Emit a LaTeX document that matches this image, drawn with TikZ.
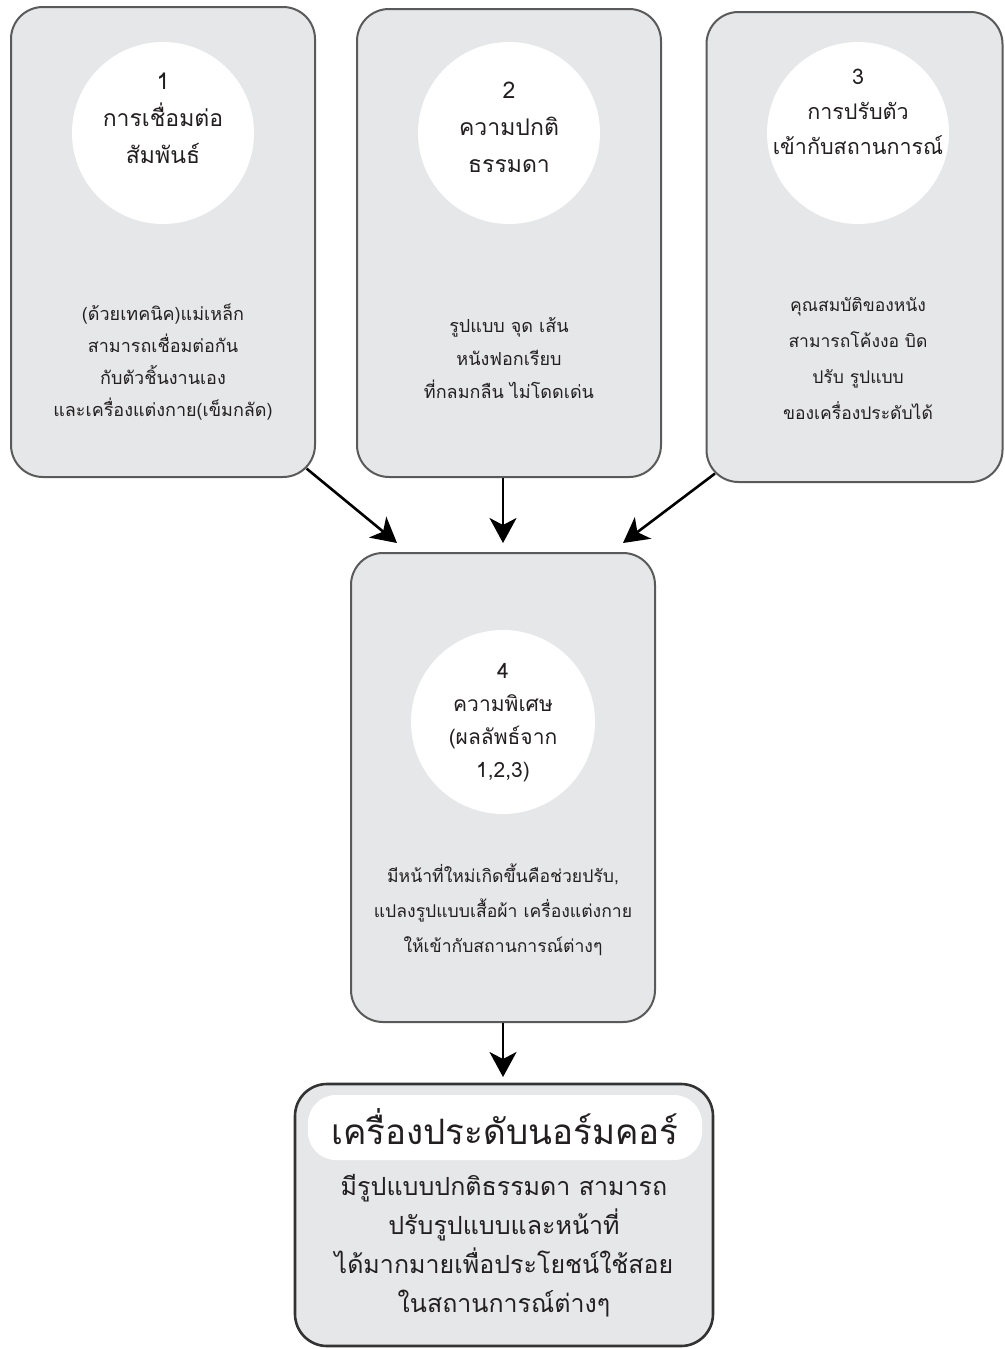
\documentclass[tikz,border=0pt]{standalone}
\usepackage{fontspec}
\newfontfamily\thaifont[Script=Thai]{Loma}
\usetikzlibrary{arrows.meta,calc}
\definecolor{boxfill}{HTML}{E6E7E8}
\definecolor{boxline}{HTML}{5A5A5A}
\definecolor{ink}{HTML}{231F20}
\begin{document}
\begin{tikzpicture}[x=1pt,y=-1pt,
  card/.style={draw=boxline, line width=2pt, fill=boxfill, rounded corners=32pt, inner sep=0pt},
  disc/.style={circle, fill=white, inner sep=0pt},
  ctext/.style={text=ink, align=center, font=\thaifont\fontsize{23}{37}\selectfont},
  btext/.style={text=ink, align=center, font=\thaifont\fontsize{18}{33}\selectfont},
  arr/.style={-{Stealth[length=25pt,width=27pt,inset=7pt]}, line width=2.6pt, draw=black}
]
\useasboundingbox (0,0) rectangle (1004,1349);
\fill[white] (0,0) rectangle (1004,1349);

% cards
\node[card, minimum width=304pt, minimum height=470pt] (b1) at (163,242) {};
\node[card, minimum width=304pt, minimum height=468pt] (b2) at (509,243) {};
\node[card, minimum width=296pt, minimum height=470pt] (b3) at (854.5,247) {};
\node[card, minimum width=304pt, minimum height=469pt] (b4) at (503,787.5) {};
\node[card, draw=black!80, line width=2.6pt, minimum width=418pt, minimum height=262pt] (b5) at (504,1215) {};

% discs
\node[disc, minimum size=182pt] (c1) at (163,133) {};
\node[disc, minimum size=182pt] (c2) at (509,133) {};
\node[disc, minimum size=182pt] (c3) at (858,133) {};
\node[disc, minimum size=184pt] (c4) at (503,722) {};
\node[fill=white, rounded corners=28pt, minimum width=394pt, minimum height=65pt, inner sep=0pt] (l5) at (505,1127.5) {};

% disc texts
\node[ctext] (t1) at (163,118) {1\\การเชื่อมต่อ\\สัมพันธ์};
\node[ctext] (t2) at (509,127) {2\\ความปกติ\\ธรรมดา};
\node[ctext, font=\thaifont\fontsize{21.5}{35}\selectfont] (t3) at (858,112) {3\\การปรับตัว\\เข้ากับสถานการณ์};
\node[ctext, font=\thaifont\fontsize{21}{33}\selectfont] (t4) at (503,723) {4\\ความพิเศษ\\(ผลลัพธ์จาก\\1,2,3)};

% body texts
\node[btext, font=\thaifont\fontsize{18}{32}\selectfont] (d1) at (163,362) {(ด้วยเทคนิค)แม่เหล็ก\\สามารถเชื่อมต่อกัน\\กับตัวชิ้นงานเอง\\และเครื่องแต่งกาย(เข็มกลัด)};
\node[btext] (d2) at (509,358) {รูปแบบ จุด เส้น\\หนังฟอกเรียบ\\ที่กลมกลืน ไม่โดดเด่น};
\node[btext, font=\thaifont\fontsize{17.5}{36}\selectfont] (d3) at (858,359) {คุณสมบัติของหนัง\\สามารถโค้งงอ บิด\\ปรับ รูปแบบ\\ของเครื่องประดับได้};
\node[btext, font=\thaifont\fontsize{17.6}{35}\selectfont] (d4) at (503,910) {มีหน้าที่ใหม่เกิดขึ้นคือช่วยปรับ,\\แปลงรูปแบบเสื้อผ้า เครื่องแต่งกาย\\ให้เข้ากับสถานการณ์ต่างๆ};
\node[text=ink, font=\thaifont\fontsize{35}{40}\selectfont] (h5) at (505,1127) {เครื่องประดับนอร์มคอร์};
\node[text=ink, align=center, font=\thaifont\fontsize{25}{39}\selectfont] (d5) at (504,1246) {มีรูปแบบปกติธรรมดา สามารถ\\ปรับรูปแบบและหน้าที่\\ได้มากมายเพื่อประโยชน์ใช้สอย\\ในสถานการณ์ต่างๆ};

% arrow ends
\coordinate (e1) at (397,543);
\coordinate (e2) at (503,543);
\coordinate (e3) at (623,543);
\coordinate (e4) at (503,1077);

\draw[arr] ($(b1.south east)+(-9.4,-9.4)$) -- (e1);
\draw[arr] ($(b2.south)+(-6,0)$) -- (e2);
\draw[arr] ($(b3.south west)+(9.4,-9.4)$) -- (e3);
\draw[arr] (b4.south) -- (e4);
\end{tikzpicture}
\end{document}
